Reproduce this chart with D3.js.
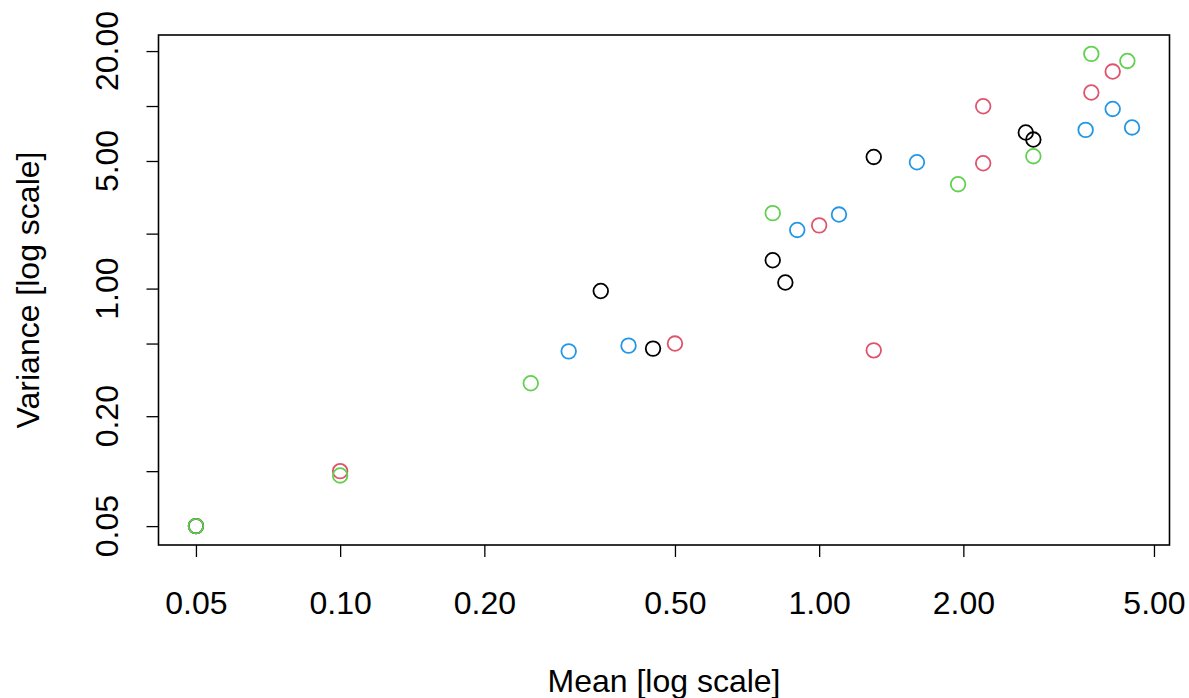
<!DOCTYPE html>
<html>
<head>
<meta charset="utf-8">
<script src="https://cdn.jsdelivr.net/npm/d3@7"></script>
<style>
  body { margin: 0; background: #ffffff; }
  text { font-family: "Liberation Sans", Arial, sans-serif; fill: #000; }
</style>
</head>
<body>
<div id="chart"></div>
<script>
// ------- data (mean, variance) for each group -------
let meanBlack = [0.05, 0.35, 0.45, 0.80, 0.85, 1.30, 2.70, 2.80];
let varBlack  = [0.05, 0.97, 0.469, 1.43, 1.08, 5.26, 7.16, 6.55];

let meanRed = [0.10, 0.50, 1.00, 1.30, 2.20, 2.20, 3.70, 4.10];
let varRed  = [0.100, 0.50, 2.22, 0.459, 9.97, 4.86, 11.86, 15.45];

let meanGreen = [0.05, 0.10, 0.25, 0.80, 1.95, 2.80, 3.70, 4.40];
let varGreen  = [0.05, 0.0947, 0.303, 2.59, 3.73, 5.31, 19.3, 17.66];

let meanBlue = [0.30, 0.40, 0.90, 1.10, 1.60, 3.60, 4.10, 4.50];
let varBlue  = [0.453, 0.487, 2.095, 2.544, 4.92, 7.40, 9.64, 7.63];

let groupColors = ["#000000", "#DF536B", "#61D04F", "#2297E6"];

// axis ticks (R style 1-2-5 log ticks), only some y labels fit
let xTicks = [0.05, 0.1, 0.2, 0.5, 1, 2, 5];
let yTicks = [0.05, 0.1, 0.2, 0.5, 1, 2, 5, 10, 20];
let yLabelled = [0.05, 0.2, 1, 5, 20];

// ------- layout -------
let width = 1189;
let height = 698;
let plotLeft = 158.5;
let plotRight = 1169.5;
let plotTop = 35;
let plotBottom = 545;
let tickLen = 12;
let fontSize = 32;
let circRadius = 7.3;

// build one flat list of points, in drawing order
let groups = [
  [meanBlack, varBlack],
  [meanRed, varRed],
  [meanGreen, varGreen],
  [meanBlue, varBlue]
];
let points = [];
groups.forEach(function(g, i) {
  g[0].forEach(function(m, j) {
    points.push({ mean: m, variance: g[1][j], col: groupColors[i] });
  });
});

// R pads log axes by 4% of the range on each side
function logDomain(values) {
  let lo = Math.log10(d3.min(values));
  let hi = Math.log10(d3.max(values));
  let pad = (hi - lo) * 0.04;
  return [Math.pow(10, lo - pad), Math.pow(10, hi + pad)];
}

let xScale = d3.scaleLog()
  .domain(logDomain(points.map(function(d) { return d.mean; })))
  .range([plotLeft, plotRight]);

let yScale = d3.scaleLog()
  .domain(logDomain(points.map(function(d) { return d.variance; })))
  .range([plotBottom, plotTop]);

let svg = d3.select("#chart")
  .append("svg")
  .attr("width", width)
  .attr("height", height);

svg.append("rect")
  .attr("width", width)
  .attr("height", height)
  .attr("fill", "#ffffff");

// ------- x axis -------
let xAxis = d3.axisBottom(xScale)
  .tickValues(xTicks)
  .tickSize(tickLen)
  .tickPadding(34)
  .tickFormat(d3.format(".2f"));

let xg = svg.append("g")
  .attr("transform", "translate(0," + plotBottom + ")")
  .call(xAxis);
xg.select(".domain").remove();
xg.selectAll("line").attr("stroke", "#000").attr("stroke-width", 1.3);
xg.selectAll("text")
  .attr("font-size", fontSize)
  .attr("font-family", "Liberation Sans, Arial, sans-serif")
  .attr("fill", "#000");

// ------- y axis -------
let yAxis = d3.axisLeft(yScale)
  .tickValues(yTicks)
  .tickSize(tickLen)
  .tickFormat("");

let yg = svg.append("g")
  .attr("transform", "translate(" + plotLeft + ",0)")
  .call(yAxis);
yg.select(".domain").remove();
yg.selectAll("line").attr("stroke", "#000").attr("stroke-width", 1.3);

// rotated y labels (las = 0 in R)
svg.append("g")
  .selectAll("text")
  .data(yLabelled)
  .enter()
  .append("text")
  .attr("transform", function(d) {
    return "translate(118," + yScale(d) + ")rotate(-90)";
  })
  .attr("text-anchor", "middle")
  .attr("font-size", fontSize)
  .text(d3.format(".2f"));

// ------- plot box -------
svg.append("rect")
  .attr("x", plotLeft)
  .attr("y", plotTop)
  .attr("width", plotRight - plotLeft)
  .attr("height", plotBottom - plotTop)
  .attr("fill", "none")
  .attr("stroke", "#000")
  .attr("stroke-width", 1.6);

// ------- points (open circles, pch = 1) -------
svg.append("g")
  .selectAll("circle")
  .data(points)
  .enter()
  .append("circle")
  .attr("cx", function(d) { return xScale(d.mean); })
  .attr("cy", function(d) { return yScale(d.variance); })
  .attr("r", circRadius)
  .attr("fill", "none")
  .attr("stroke", function(d) { return d.col; })
  .attr("stroke-width", 1.8);

// ------- axis titles -------
svg.append("text")
  .attr("x", (plotLeft + plotRight) / 2)
  .attr("y", 692)
  .attr("text-anchor", "middle")
  .attr("font-size", fontSize)
  .text("Mean [log scale]");

svg.append("text")
  .attr("transform", "translate(39," + (plotTop + plotBottom) / 2 + ")rotate(-90)")
  .attr("text-anchor", "middle")
  .attr("font-size", fontSize)
  .text("Variance [log scale]");
</script>
</body>
</html>
